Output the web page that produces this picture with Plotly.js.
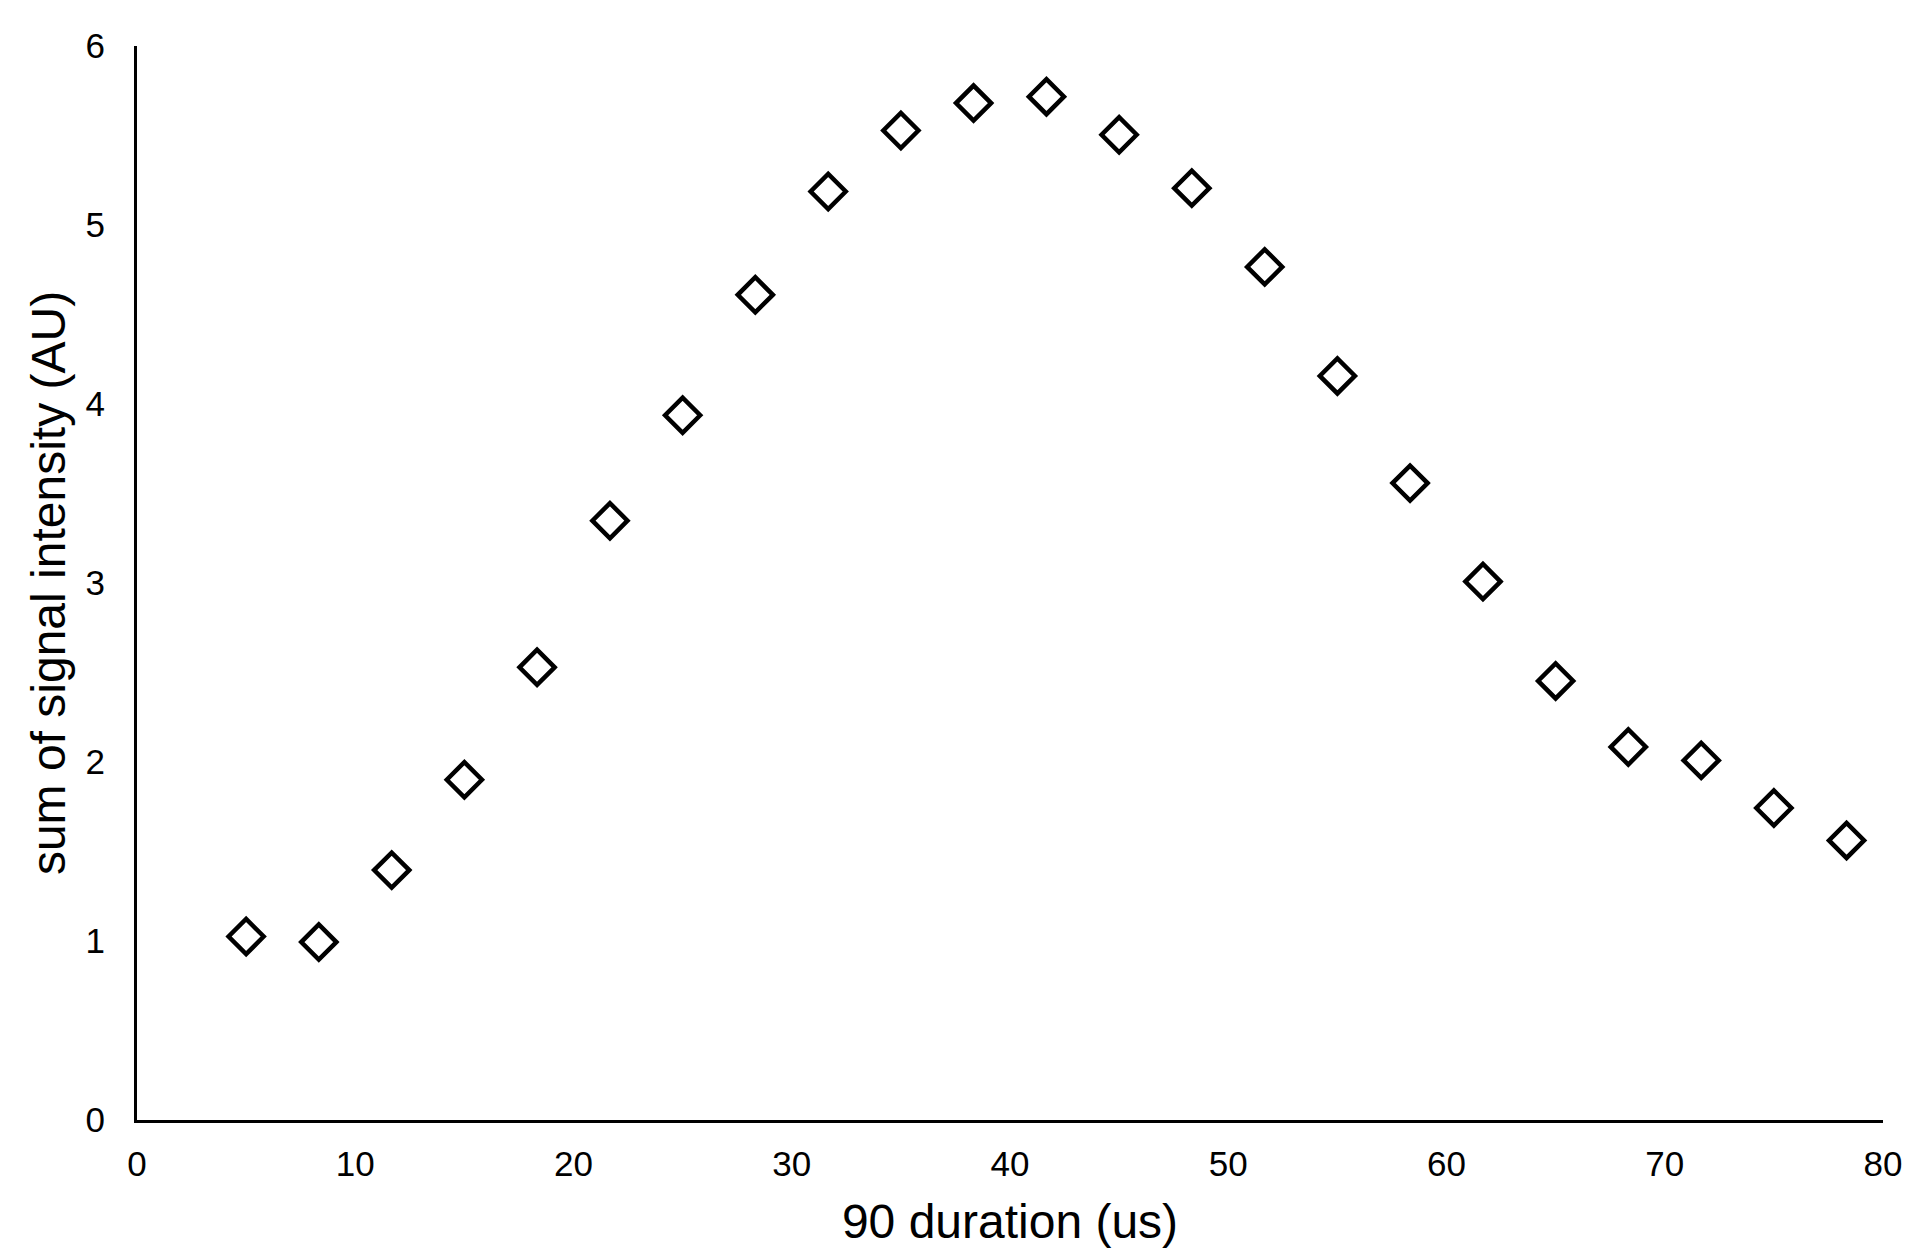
<!DOCTYPE html>
<html>
<head>
<meta charset="utf-8">
<script src="https://cdn.plot.ly/plotly-3.0.1.min.js"></script>
<style>
  html, body { margin: 0; padding: 0; background: #fff; }
  #chart { width: 1919px; height: 1259px; }
</style>
</head>
<body>
<div id="chart"></div>
<script>
// pulse duration (us)
const duration = [5, 8.33, 11.67, 15, 18.33, 21.67, 25, 28.33, 31.67, 35, 38.33, 41.67,
  45, 48.33, 51.67, 55, 58.33, 61.67, 65, 68.33, 71.67, 75, 78.33]
// summed signal intensity (AU)
const signal = [1.025, 0.994, 1.396, 1.901, 2.529, 3.348, 3.937, 4.61, 5.187, 5.528, 5.681, 5.717,
  5.504, 5.206, 4.766, 4.157, 3.558, 3.008, 2.453, 2.084, 2.009, 1.743, 1.562]

const xTicks = [0, 10, 20, 30, 40, 50, 60, 70, 80]
const yTicks = [0, 1, 2, 3, 4, 5, 6]

const font = 'Liberation Sans, Arial, sans-serif'

const data = [
  {
    x: duration,
    y: signal,
    type: 'scatter',
    mode: 'markers',
    marker: {
      symbol: 'diamond-open',
      size: 27,
      color: '#000',
      line: { width: 4.5, color: '#000' },
    },
    hoverinfo: 'x+y',
  }
]

const layout = {
  width: 1919,
  height: 1259,
  margin: { l: 137, r: 36, t: 46, b: 139 },
  paper_bgcolor: '#fff',
  plot_bgcolor: '#fff',
  showlegend: false,
  font: { family: font, color: '#000' },
  xaxis: {
    range: [0, 80],
    tickvals: xTicks,
    ticks: '',
    ticklabelstandoff: 11,
    tickfont: { size: 35, family: font, color: '#000' },
    showgrid: false,
    zeroline: false,
    showline: true,
    linecolor: '#000',
    linewidth: 3,
    title: { text: '90 duration (us)', font: { size: 48, family: font, color: '#000' }, standoff: 23 },
  },
  yaxis: {
    range: [0, 6],
    tickvals: yTicks,
    ticks: '',
    ticklabelstandoff: 22,
    tickfont: { size: 35, family: font, color: '#000' },
    showgrid: false,
    zeroline: false,
    showline: true,
    linecolor: '#000',
    linewidth: 3,
    title: { text: 'sum of signal intensity (AU)', font: { size: 48, family: font, color: '#000' }, standoff: 5 },
  },
}

Plotly.newPlot('chart', data, layout, { displayModeBar: false, staticPlot: true })
</script>
</body>
</html>
